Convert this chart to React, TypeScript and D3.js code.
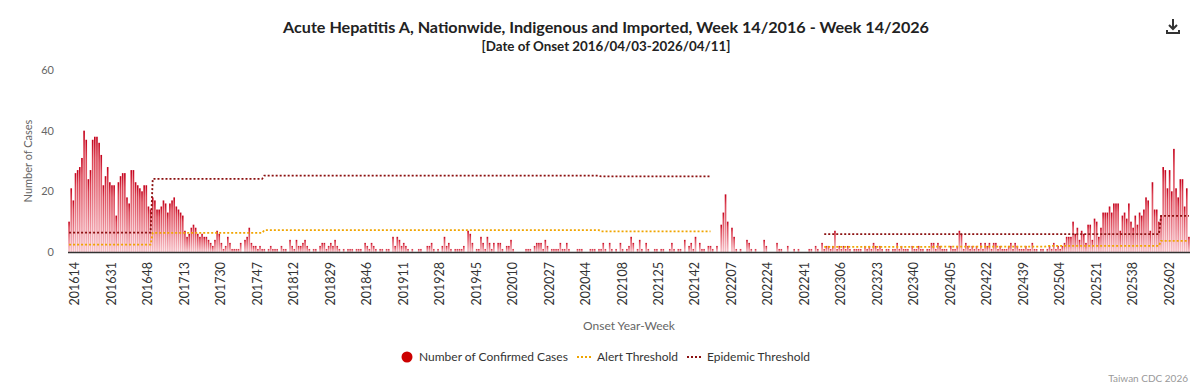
import { useMemo } from "react"
import { line as d3Line, scaleBand, scaleLinear } from "d3"

// weekly confirmed cases
const years = [2016, 2017, 2018, 2019, 2020, 2021, 2022, 2023, 2024, 2025, 2026]
const startWeek = [14, 1, 1, 1, 1, 1, 1, 1, 1, 1, 1]

const cases2016 = [10, 21, 17, 26, 27, 28, 31, 40, 37, 24, 27, 37, 38, 38, 36, 32, 22, 25, 28, 23, 22, 22, 12, 23, 25, 26, 26, 18, 16, 27, 27, 23, 22, 21, 20, 22, 22, 15, 14]
const cases2017 = [18, 17, 14, 14, 15, 17, 16, 13, 16, 17, 18, 15, 14, 13, 12, 7, 5, 6, 8, 9, 8, 6, 5, 6, 5, 5, 4, 3, 2, 4, 7, 6, 3, 1, 2, 5, 3, 1, 1, 1, 1, 3, 0, 4, 5, 8, 3, 2, 2, 1, 2, 1]
const cases2018 = [1, 0, 1, 2, 1, 1, 1, 0, 2, 1, 1, 0, 4, 2, 1, 4, 2, 2, 3, 4, 2, 1, 0, 1, 1, 0, 2, 3, 3, 1, 2, 3, 2, 4, 2, 1, 0, 1, 0, 1, 1, 1, 0, 1, 1, 1, 0, 3, 2, 1, 3, 2]
const cases2019 = [1, 0, 1, 1, 0, 1, 1, 0, 5, 2, 5, 4, 2, 3, 2, 1, 0, 1, 0, 0, 1, 1, 0, 0, 2, 2, 3, 1, 0, 1, 0, 2, 5, 2, 3, 1, 0, 1, 1, 1, 1, 2, 0, 7, 6, 3, 0, 1, 1, 5, 3, 1]
const cases2020 = [5, 3, 1, 3, 0, 3, 3, 1, 0, 2, 2, 4, 1, 0, 0, 0, 0, 0, 1, 1, 1, 0, 2, 3, 3, 3, 1, 4, 2, 0, 1, 1, 1, 1, 3, 1, 1, 3, 1, 0, 0, 0, 1, 1, 1, 0, 0, 0, 1, 1, 1, 0, 1]
const cases2021 = [1, 3, 1, 0, 3, 1, 0, 1, 0, 3, 1, 0, 1, 2, 5, 3, 0, 1, 4, 1, 0, 3, 1, 0, 0, 1, 1, 0, 1, 1, 0, 0, 1, 3, 1, 0, 1, 1, 0, 4, 0, 2, 3, 1, 5, 0, 3, 1, 1, 0, 2, 2]
const cases2022 = [1, 0, 2, 0, 9, 13, 19, 10, 0, 8, 5, 1, 0, 1, 0, 0, 4, 3, 1, 0, 1, 0, 0, 0, 4, 2, 0, 0, 0, 0, 3, 1, 1, 0, 0, 2, 0, 0, 1, 0, 1, 0, 0, 0, 0, 1, 1, 0, 2, 1, 0, 3]
const cases2023 = [1, 2, 2, 1, 2, 7, 1, 2, 1, 2, 1, 2, 1, 0, 1, 1, 1, 1, 0, 2, 1, 2, 1, 3, 2, 1, 2, 1, 0, 1, 1, 0, 1, 1, 3, 1, 2, 1, 1, 1, 0, 2, 1, 1, 2, 1, 1, 0, 1, 1, 3, 3]
const cases2024 = [1, 3, 2, 1, 1, 1, 0, 2, 1, 1, 2, 7, 6, 1, 3, 2, 1, 2, 1, 2, 1, 3, 1, 3, 2, 3, 1, 3, 3, 1, 2, 1, 1, 1, 2, 3, 1, 3, 2, 1, 1, 1, 2, 1, 1, 3, 1, 1, 0, 1, 1, 0]
const cases2025 = [1, 2, 1, 3, 1, 2, 1, 2, 3, 5, 5, 5, 10, 6, 8, 4, 7, 6, 3, 9, 9, 4, 11, 10, 5, 8, 13, 13, 13, 15, 13, 16, 16, 16, 7, 12, 13, 11, 16, 10, 8, 12, 9, 13, 12, 14, 18, 17, 7, 23, 14, 14, 10]
const cases2026 = [12, 28, 27, 21, 27, 20, 34, 21, 18, 24, 24, 15, 21, 5]

const casesByYear = [cases2016, cases2017, cases2018, cases2019, cases2020, cases2021, cases2022, cases2023, cases2024, cases2025, cases2026]

// yearly thresholds (none drawn for 2022)
const alertByYear = [2.4, 6.3, 7.2, 7.2, 7.2, 6.8, null, 1.7, 1.8, 2.0, 3.7]
const epidemicByYear = [6.4, 24.1, 25.2, 25.2, 25.2, 24.9, null, 5.9, 5.9, 5.9, 11.9]

const tickLabels = [
  "201614", "201631", "201648", "201713", "201730", "201747", "201812", "201829", "201846", "201911", "201928",
  "201945", "202010", "202027", "202044", "202108", "202125", "202142", "202207", "202224", "202241", "202306",
  "202323", "202340", "202405", "202422", "202439", "202504", "202521", "202538", "202602",
]
const yTicks = [0, 20, 40, 60]

const font = "Lato, 'Noto Sans', sans-serif"

interface WeekPoint {
  key: string
  value: number
  alert: number | null
  epidemic: number | null
}

export default function App() {
  const width = 1200
  const height = 386
  const plot = { left: 68, right: 1190, top: 70, bottom: 252 }

  const weeks = useMemo(() => {
    const out: WeekPoint[] = []
    years.forEach((year, yi) => {
      casesByYear[yi].forEach((value, wi) => {
        const week = startWeek[yi] + wi
        out.push({ key: `${year}${String(week).padStart(2, "0")}`, value, alert: alertByYear[yi], epidemic: epidemicByYear[yi] })
      })
    })
    return out
  }, [])

  const x = useMemo(() => scaleBand<string>().domain(weeks.map((d) => d.key)).range([plot.left, plot.right]).paddingInner(0), [weeks])
  const y = useMemo(() => scaleLinear().domain([0, 60]).range([plot.bottom, plot.top]), [])
  const bw = x.bandwidth()
  const barW = bw * 0.76

  const thresholdPath = (field: "alert" | "epidemic") =>
    d3Line<WeekPoint>()
      .defined((d) => d[field] != null)
      .x((d) => (x(d.key) ?? 0) + bw / 2)
      .y((d) => y(d[field] ?? 0))(weeks) ?? ""

  return (
    <svg width={width} height={height} style={{ position: "fixed", left: 0, top: 0, background: "#fff" }} fontFamily={font}>
      <defs>
        <linearGradient id="barGrad" x1="0" y1="0" x2="0" y2="1">
          <stop offset="0%" stopColor="#c4001a" />
          <stop offset="18%" stopColor="#dc4354" />
          <stop offset="100%" stopColor="#f8c2c9" />
        </linearGradient>
      </defs>

      <text x={606} y={33} textAnchor="middle" fontSize="16" fontWeight="bold" fill="#222" textLength={646} lengthAdjust="spacingAndGlyphs">
        Acute Hepatitis A, Nationwide, Indigenous and Imported, Week 14/2016 - Week 14/2026
      </text>
      <text x={606} y={51} textAnchor="middle" fontSize="14" fontWeight="bold" fill="#222" textLength={249} lengthAdjust="spacingAndGlyphs">
        [Date of Onset 2016/04/03-2026/04/11]
      </text>

      {/* download icon */}
      <g stroke="#333" strokeWidth="2" fill="none">
        <path d="M1173 19 V29 M1169 25 L1173 29 L1177 25" />
        <path d="M1167 30 V33 H1179 V30" />
      </g>

      {yTicks.map((t) => (
        <text key={t} x={54} y={y(t)} dy="0.35em" textAnchor="end" fontSize="11" fill="#666">{t}</text>
      ))}
      <text transform={`translate(32,${(plot.top + plot.bottom) / 2}) rotate(-90)`} textAnchor="middle" fontSize="11" fill="#666">
        Number of Cases
      </text>

      {weeks.map((d) =>
        d.value > 0 ? (
          <rect key={d.key} x={(x(d.key) ?? 0) + (bw - barW) / 2} y={y(d.value)} width={barW} height={y(0) - y(d.value)} fill="url(#barGrad)" />
        ) : null
      )}

      <path d={thresholdPath("alert")} fill="none" stroke="#f0a500" strokeWidth="1.8" strokeDasharray="2 2" />
      <path d={thresholdPath("epidemic")} fill="none" stroke="#8b1010" strokeWidth="1.8" strokeDasharray="2 2" />

      <line x1={plot.left} x2={plot.right} y1={plot.bottom + 0.5} y2={plot.bottom + 0.5} stroke="#333" strokeWidth="1.5" />

      {tickLabels.map((label) => (
        <text
          key={label}
          transform={`translate(${(x(label) ?? 0) + bw / 2 + 6},262) rotate(-90)`}
          dy="0.35em"
          textAnchor="end"
          fontSize="12.5"
          fill="#333"
        >
          {label}
        </text>
      ))}
      <text x={(plot.left + plot.right) / 2} y={330} textAnchor="middle" fontSize="12" fill="#666">Onset Year-Week</text>

      {/* legend */}
      <g fontSize="12" fill="#333">
        <circle cx={407} cy={357} r={5.5} fill="#cc0000" />
        <text x={419} y={361}>Number of Confirmed Cases</text>
        <line x1={577} x2={591} y1={357} y2={357} stroke="#f0a500" strokeWidth="1.8" strokeDasharray="2 2" />
        <text x={597} y={361}>Alert Threshold</text>
        <line x1={687} x2={701} y1={357} y2={357} stroke="#8b1010" strokeWidth="1.8" strokeDasharray="2 2" />
        <text x={707} y={361}>Epidemic Threshold</text>
      </g>
      <text x={1188} y={382} textAnchor="end" fontSize="10" fill="#999">Taiwan CDC 2026</text>
    </svg>
  )
}
